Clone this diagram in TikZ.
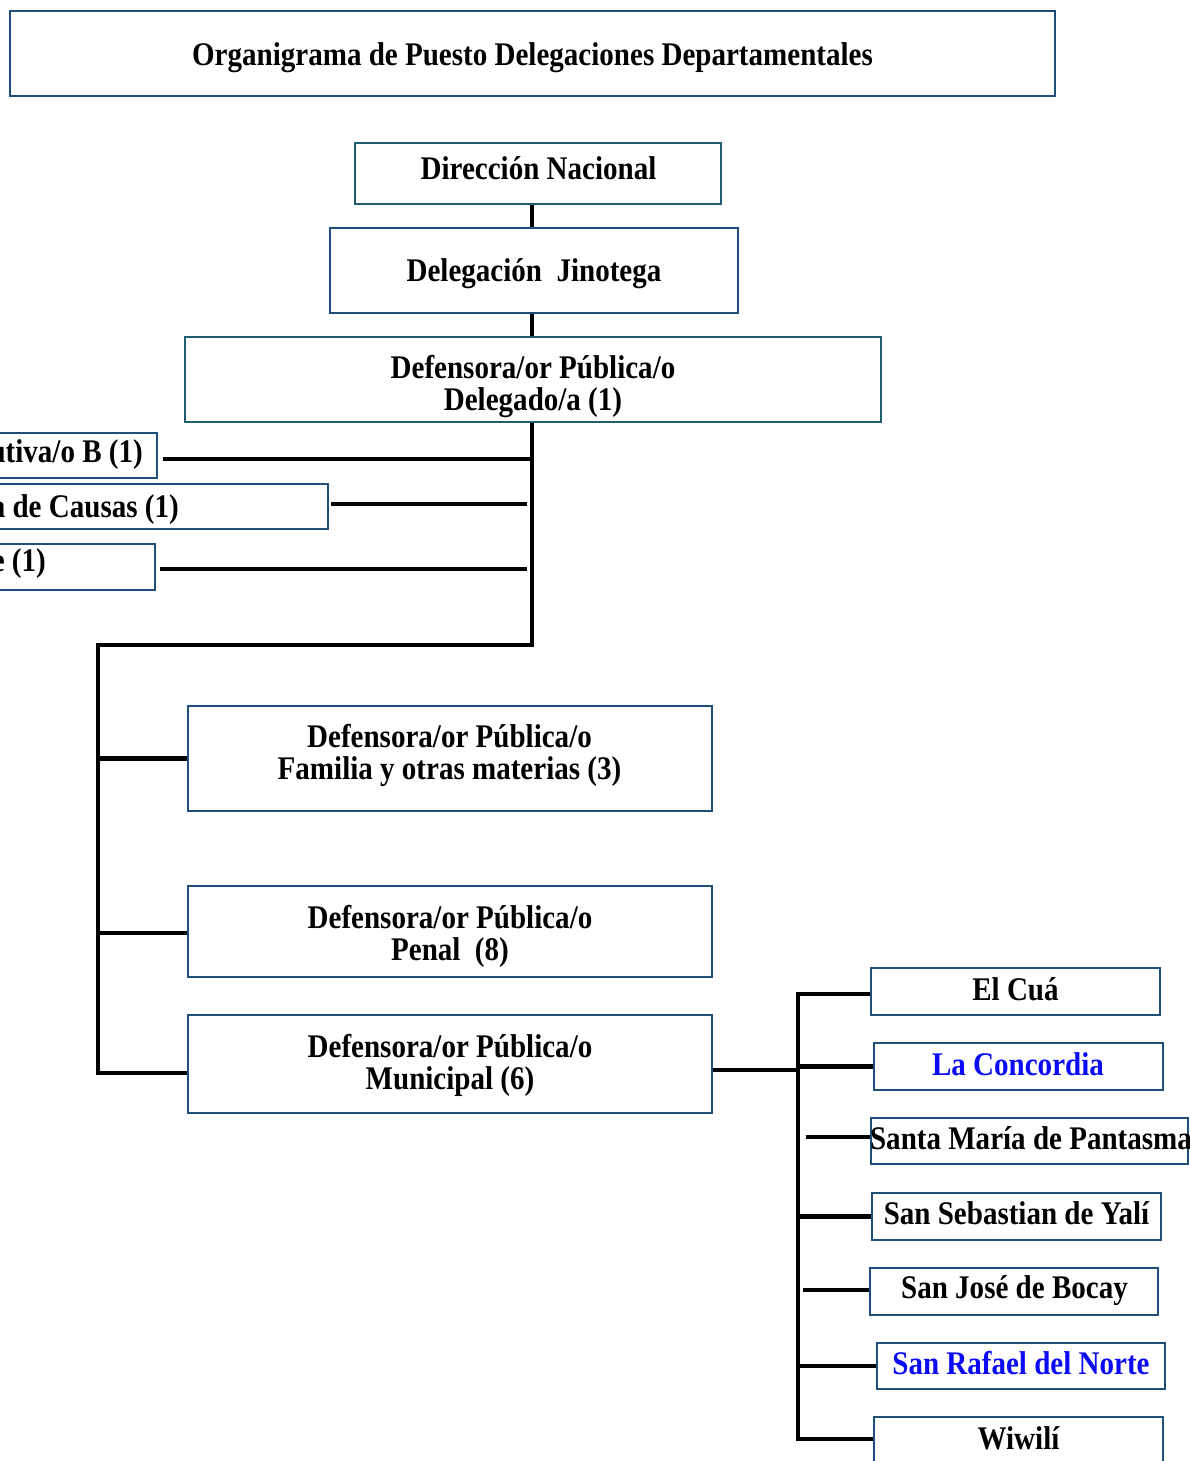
\documentclass[tikz,border=0pt]{standalone}
\usepackage{fontspec}
\setmainfont{Liberation Serif}[FakeStretch=0.88]
\definecolor{boxblue}{HTML}{1F4E79}
\definecolor{boxteal}{HTML}{1F5E70}
\definecolor{txtblue}{HTML}{0A0AF5}
\begin{document}
\begin{tikzpicture}[x=1pt,y=-1pt,
  box/.style={draw=boxblue, line width=2.5pt, fill=white, inner sep=0pt},
  tbox/.style={box, draw=boxteal},
  lbl/.style={inner sep=0pt, align=center, font=\fontsize{33}{32}\selectfont\bfseries},
  conn/.style={line width=4.5pt, draw=black}]
\clip (0,0) rectangle (1190,1461);
\useasboundingbox (0,0) rectangle (1190,1461);

% title
\node[box, minimum width=1045, minimum height=85] (title) at (532.5,53.5) {};
\node[lbl] (titleT) at (532.5,58) {Organigrama de Puesto Delegaciones Departamentales};

% top chain
\node[tbox, minimum width=366, minimum height=61] (dn) at (538,173.5) {};
\node[lbl] (dnT) at (538.5,168.5) {Dirección Nacional};
\node[box, minimum width=408, minimum height=85] (dj) at (534,270.5) {};
\node[lbl] (djT) at (534,274) {Delegación~ Jinotega};
\node[tbox, minimum width=696, minimum height=85] (dd) at (533,379.5) {};
\node[lbl] (ddT) at (533,387) {Defensora/or Pública/o\\Delegado/a (1)};

% cut-off side boxes
\node[box, minimum width=197, minimum height=45] (s1) at (58.5,455.5) {};
\node[lbl, anchor=east] (s1T) at (143,455) {utiva/o B (1)};
\node[box, minimum width=368, minimum height=45] (s2) at (144,506.5) {};
\node[lbl, anchor=east] (s2T) at (179,510) {a de Causas (1)};
\node[box, minimum width=195, minimum height=46] (s3) at (57.5,567) {};
\node[lbl, anchor=east] (s3T) at (46,564) {e (1)};

% lower left boxes
\node[box, minimum width=524, minimum height=105] (fam) at (450,758.5) {};
\node[lbl] (famT) at (449.5,755.5) {Defensora/or Pública/o\\Familia y otras materias (3)};
\node[box, minimum width=524, minimum height=91] (pen) at (450,931.5) {};
\node[lbl] (penT) at (450,936.5) {Defensora/or Pública/o\\Penal~ (8)};
\node[box, minimum width=524, minimum height=98] (mun) at (450,1064) {};
\node[lbl] (munT) at (450,1065) {Defensora/or Pública/o\\Municipal (6)};

% municipalities
\node[box, minimum width=289, minimum height=47] (cua) at (1015.5,991.5) {};
\node[lbl] (cuaT) at (1015.5,989.5) {El Cuá};
\node[box, minimum width=289, minimum height=47] (con) at (1018.5,1066.5) {};
\node[lbl, text=txtblue] (conT) at (1018,1064.5) {La Concordia};
\node[box, minimum width=317, minimum height=46] (sma) at (1029.5,1141) {};
\node[lbl] (smaT) at (1031,1138) {Santa María de Pantasma};
\node[box, minimum width=289, minimum height=47] (sse) at (1016.5,1216.5) {};
\node[lbl] (sseT) at (1016.5,1213.5) {San Sebastian de Yalí};
\node[box, minimum width=288, minimum height=47] (sjo) at (1014,1291.5) {};
\node[lbl] (sjoT) at (1014.5,1290.5) {San José de Bocay};
\node[box, minimum width=288, minimum height=46] (sra) at (1021,1366) {};
\node[lbl, text=txtblue] (sraT) at (1021,1363) {San Rafael del Norte};
\node[box, minimum width=289, minimum height=47] (wiw) at (1018.5,1440.5) {};
\node[lbl] (wiwT) at (1018.5,1438.5) {Wiwilí};

% coordinates
\coordinate (tx) at (532,0);
\coordinate (j1) at (532,645);
\coordinate (j2) at (98,645);
\coordinate (j3) at (98,1073);
\coordinate (jp) at (98,933);
\coordinate (b1) at (530,459);
\coordinate (b2) at (527,504);
\coordinate (b3) at (527,569);
\coordinate (m1) at (798,1070);
\coordinate (r0) at (798,994);
\coordinate (r1) at (798,1439);
\coordinate (ls) at (806,1137);
\coordinate (lj) at (803,1290);

% connectors
\draw[conn] (dn.south -| tx) -- (dj.north -| tx);
\draw[conn] (dj.south -| tx) -- (dd.north -| tx);
\draw[conn] (dd.south -| tx) -- (j1) -- (j2) -- (j3) -- (mun.west |- j3);
\draw[conn] (s1.east |- b1) ++(5,0) -- (b1);
\draw[conn] (s2.east |- b2) ++(2,0) -- (b2);
\draw[conn] (s3.east |- b3) ++(4,0) -- (b3);
\draw[conn] (fam.west -| j2) -- (fam.west);
\draw[conn] (jp) -- (pen.west |- jp);
\draw[conn] (mun.east |- m1) -- (m1);
\draw[conn] (cua.west |- r0) -- (r0) -- (r1) -- (wiw.west |- r1);
\draw[conn] (con.west -| r0) -- (con.west);
\draw[conn] (ls) -- (sma.west |- ls);
\draw[conn] (sse.west -| r0) -- (sse.west);
\draw[conn] (lj) -- (sjo.west |- lj);
\draw[conn] (sra.west -| r0) -- (sra.west);
\end{tikzpicture}
\end{document}
